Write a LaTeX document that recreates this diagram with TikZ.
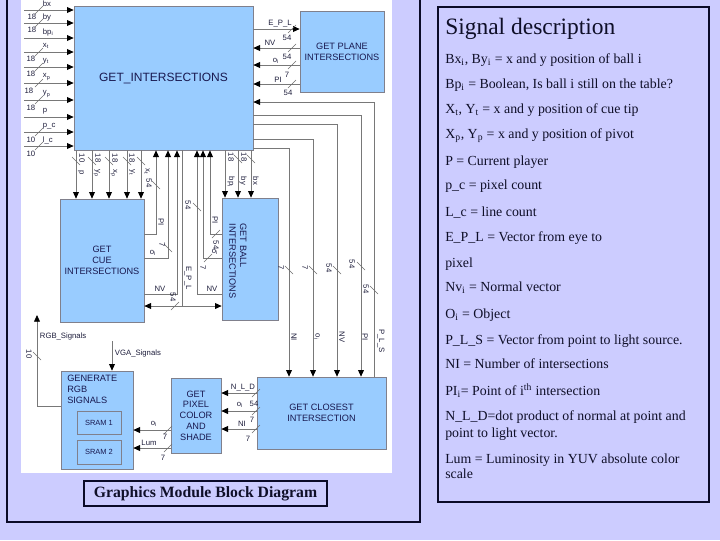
\documentclass[tikz,border=0pt]{standalone}
\usepackage{fontspec}
\setmainfont{Liberation Serif}
\setsansfont{Liberation Sans}
\usetikzlibrary{arrows.meta}

\begin{document}
\begin{tikzpicture}[x=0.75pt,y=0.75pt,yscale=-1,xscale=1,
  blk/.style={draw={rgb, 255:red, 128; green, 128; blue, 140 }, fill={rgb, 255:red, 153; green, 204; blue, 255 }, line width=0.5pt, inner sep=0pt, text={rgb, 255:red, 25; green, 25; blue, 80 }, font=\sffamily\fontsize{6.9}{8.1}\selectfont, align=center},
  boxtxt/.style={inner sep=0pt, text={rgb, 255:red, 25; green, 25; blue, 80 }, font=\sffamily\fontsize{6.9}{8.1}\selectfont},
  lbl/.style={inner sep=0.5pt, text={rgb, 255:red, 30; green, 30; blue, 60 }, font=\sffamily\fontsize{5.8}{6.5}\selectfont},
  rlbl/.style={lbl, rotate=-90},
  wire/.style={draw={rgb, 255:red, 120; green, 120; blue, 120 }, line width=0.6pt},
  sig/.style={wire, -{Triangle[length=5pt,width=4.4pt,color=black]}},
  dsig/.style={wire, {Triangle[length=5pt,width=4.4pt,color=black]}-{Triangle[length=5pt,width=4.4pt,color=black]}},
  tk/.style={draw={rgb, 255:red, 110; green, 110; blue, 110 }, line width=0.4pt},
  desc/.style={anchor=base west, inner sep=0pt, text={rgb, 255:red, 15; green, 15; blue, 40 }, font=\fontsize{10.4}{12}\selectfont}
  ]
\useasboundingbox (0,0) rectangle (720,540);

%Shape: Rectangle (page)
\fill [fill={rgb, 255:red, 204; green, 204; blue, 255 }] (0,0) rectangle (720,540);
%Shape: Rectangle (left frame)
\draw [draw={rgb, 255:red, 10; green, 10; blue, 40 }, line width=1pt] (7,-5) rectangle (420,522);
\fill [white] (21,0) rectangle (392,473);
%Shape: Rectangle (right frame)
\draw [draw={rgb, 255:red, 10; green, 10; blue, 40 }, line width=1pt] (438,7) rectangle (709,502);

% Blocks
\node [blk, minimum width=134.25pt, minimum height=108pt, font=\sffamily\fontsize{9}{10}\selectfont] (gi) at (163.5,78) {GET\_INTERSECTIONS};
\node [blk, minimum width=63pt, minimum height=60.75pt] (gpi) at (342,51.5) {GET PLANE\\INTERSECTIONS};
\node [blk, minimum width=63pt, minimum height=92.25pt] (gcue) at (102,260.5) {GET\\CUE\\INTERSECTIONS};
\node [blk, minimum width=42pt, minimum height=91.5pt] (gball) at (250,259) {};
\node [boxtxt, rotate=-90, align=left] (tball) at (238,261) {GET BALL\\INTERSECTIONS};
\node [blk, minimum width=96.75pt, minimum height=54pt] (gci) at (321.5,413) {GET CLOSEST\\INTERSECTION};
\node [blk, minimum width=37.5pt, minimum height=56.25pt] (gpix) at (196,415.5) {GET\\PIXEL\\COLOR\\AND\\SHADE};
\node [blk, minimum width=54pt, minimum height=73.5pt] (grgb) at (97,420) {};
\node [boxtxt, anchor=north west, align=left] (trgb) at (67,375) {GENERATE\\RGB\\SIGNALS};
\node [blk, minimum width=33pt, minimum height=17.25pt, font=\sffamily\fontsize{5.6}{6.5}\selectfont] (sram1) at (99,422.5) {SRAM 1};
\node [blk, minimum width=33pt, minimum height=18pt, font=\sffamily\fontsize{5.6}{6.5}\selectfont] (sram2) at (99,452) {SRAM 2};

% Inputs of GET_INTERSECTIONS
\coordinate (ibx) at (24,10);
\coordinate (iby) at (24,23);
\coordinate (ibp) at (24,38);
\coordinate (ixt) at (24,52);
\coordinate (iyt) at (24,67);
\coordinate (ixp) at (24,83);
\coordinate (iyp) at (24,100);
\coordinate (ip) at (24,117);
\coordinate (ipc) at (24,132);
\coordinate (ilc) at (24,146);
\draw [sig] (ibx) -- (ibx -| gi.west);
\draw [sig] (iby) -- (iby -| gi.west);
\draw [sig] (ibp) -- (ibp -| gi.west);
\draw [sig] (ixt) -- (ixt -| gi.west);
\draw [sig] (iyt) -- (iyt -| gi.west);
\draw [sig] (ixp) -- (ixp -| gi.west);
\draw [sig] (iyp) -- (iyp -| gi.west);
\draw [sig] (ip) -- (ip -| gi.west);
\draw [sig] (ipc) -- (ipc -| gi.west);
\draw [sig] (ilc) -- (ilc -| gi.west);
%Straight Lines (bus ticks)
\draw [tk] (35,14) -- (43,6);
\draw [tk] (35,27) -- (43,19);
\draw [tk] (35,56) -- (43,48);
\draw [tk] (35,71) -- (43,63);
\draw [tk] (35,87) -- (43,79);
\draw [tk] (35,104) -- (43,96);
\draw [tk] (35,136) -- (43,128);
\draw [tk] (35,150) -- (43,142);
% Text Node
\node [lbl, anchor=west] (nbx) at (42,4) {bx};
\node [lbl, anchor=west] (nby) at (42,17) {by};
\node [lbl, anchor=west] (nbp) at (42,32) {bp\textsubscript{i}};
\node [lbl, anchor=west] (nxt) at (42,46) {x\textsubscript{t}};
\node [lbl, anchor=west] (nyt) at (42,61) {y\textsubscript{t}};
\node [lbl, anchor=west] (nxp) at (42,77) {x\textsubscript{p}};
\node [lbl, anchor=west] (nyp) at (42,94) {y\textsubscript{p}};
\node [lbl, anchor=west] (np) at (42,111) {p};
\node [lbl, anchor=west] (npc) at (42,126) {p\_c};
\node [lbl, anchor=west] (nlc) at (42,140) {l\_c};
\node [lbl] (wbx) at (32,17) {18};
\node [lbl] (wby) at (32,30) {18};
\node [lbl] (wxt) at (31,59) {18};
\node [lbl] (wyt) at (31,74) {18};
\node [lbl] (wxp) at (29,91) {18};
\node [lbl] (wyp) at (31,108) {18};
\node [lbl] (wpc) at (31,140) {10};
\node [lbl] (wlc) at (31,154) {10};

% Connection: GET_INTERSECTIONS <-> GET PLANE INTERSECTIONS
\draw [sig] (gi.east |- 0,29) -- (gpi.west |- 0,29);
\draw [sig] (gpi.west |- 0,48) -- (gi.east |- 0,48);
\draw [sig] (gpi.west |- 0,65) -- (gi.east |- 0,65);
\draw [sig] (gpi.west |- 0,84) -- (gi.east |- 0,84);
\draw [tk] (288,33) -- (296,25);
\draw [tk] (288,52) -- (296,44);
\draw [tk] (288,69) -- (296,61);
\draw [tk] (288,88) -- (296,80);
\node [lbl] (nepl) at (280,24) {E\_P\_L};
\node [lbl] (nnv) at (270,43) {NV};
\node [lbl] (noi) at (276,61) {o\textsubscript{i}};
\node [lbl] (npi) at (278,80) {PI};
\node [lbl] (wepl) at (287,38) {54};
\node [lbl] (wnv) at (287,57) {54};
\node [lbl] (woi) at (287,75) {7};
\node [lbl] (wpi) at (288,93) {54};

% Connection: GET_INTERSECTIONS -> GET CUE INTERSECTIONS
\draw [sig] (gi.south -| 76,0) -- (gcue.north -| 76,0);
\draw [sig] (gi.south -| 92,0) -- (gcue.north -| 92,0);
\draw [sig] (gi.south -| 109,0) -- (gcue.north -| 109,0);
\draw [sig] (gi.south -| 127,0) -- (gcue.north -| 127,0);
\draw [sig] (gi.south -| 141,0) -- (gcue.north -| 141,0);
\draw [tk] (72,157) -- (80,165);
\draw [tk] (88,157) -- (96,165);
\draw [tk] (105,157) -- (113,165);
\draw [tk] (123,157) -- (131,165);
\draw [tk] (137,157) -- (145,165);
\node [rlbl] (wcp) at (82,158) {10};
\node [rlbl] (wcyp) at (98,158) {18};
\node [rlbl] (wcxp) at (115,158) {18};
\node [rlbl] (wcyt) at (132,158) {18};
\node [rlbl] (ncp) at (81,173) {p};
\node [rlbl] (ncyp) at (97,173) {y\textsubscript{p}};
\node [rlbl] (ncxp) at (114,173) {x\textsubscript{p}};
\node [rlbl] (ncyt) at (132,173) {y\textsubscript{t}};
\node [rlbl] (ncxt) at (147,172) {x\textsubscript{t}};

% Connection: GET_INTERSECTIONS -> GET BALL INTERSECTIONS
\draw [sig] (gi.south -| 225,0) -- (gball.north -| 225,0);
\draw [sig] (gi.south -| 238,0) -- (gball.north -| 238,0);
\draw [sig] (gi.south -| 251,0) -- (gball.north -| 251,0);
\draw [tk] (234,155) -- (242,163);
\draw [tk] (247,155) -- (255,163);
\node [rlbl] (wby2) at (231,157) {18};
\node [rlbl] (wbx2) at (244,157) {18};
\node [rlbl] (nbp2) at (231,182) {bp\textsubscript{i}};
\node [rlbl] (nby2) at (243,181) {by};
\node [rlbl] (nbx2) at (256,181) {bx};

% Connection: GET CUE INTERSECTIONS -> GET_INTERSECTIONS
\draw [sig] (gcue.east |- 0,234) -| (gi.south -| 156,0);
\draw [sig] (gcue.east |- 0,258) -| (gi.south -| 168,0);
\draw [sig] (gcue.east |- 0,294) -| (gi.south -| 177,0);
\draw [tk] (152,181) -- (160,189);
\draw [tk] (164,244) -- (172,252);
\node [rlbl] (wcpi) at (149,183) {54};
\node [rlbl] (ncpi) at (161,222) {PI};
\node [rlbl] (wco) at (162,245) {7};
\node [lbl] (nco) at (153,253) {o\textsubscript{i}};
\node [lbl] (ncnv) at (160,289) {NV};

% Connection: GET BALL INTERSECTIONS -> GET_INTERSECTIONS
\draw [sig] (gball.west |- 0,234) -| (gi.south -| 210,0);
\draw [sig] (gball.west |- 0,258) -| (gi.south -| 203,0);
\draw [sig] (gball.west |- 0,294) -| (gi.south -| 197,0);
\draw [tk] (193,203) -- (201,211);
\draw [tk] (212,238) -- (220,230);
\draw [tk] (204,262) -- (212,254);
\node [rlbl] (wbnv) at (188,205) {54};
\node [rlbl] (nbpi) at (215,220) {PI};
\node [rlbl] (wbpi) at (216,245) {54};
\node [lbl] (nbo) at (215,252) {o\textsubscript{i}};
\node [rlbl] (wbo) at (203,268) {7};
\node [lbl] (nbnv) at (212,289) {NV};

% Connection: E_P_L to both cue and ball blocks
\coordinate (eplj) at (182,306);
\draw [wire] (gi.south -| eplj) -- (eplj);
\draw [dsig] (gcue.east |- eplj) -- (gball.west |- eplj);
\draw [tk] (171,310) -- (179,302);
\node [rlbl] (nepl2) at (188,278) {E\_P\_L};
\node [rlbl] (wepl2) at (173,297) {54};

% Connection: GET_INTERSECTIONS <-> GET CLOSEST INTERSECTION
\draw [sig] (gi.east |- 0,148) -| (gci.north -| 289,0);
\draw [sig] (gi.east |- 0,139) -| (gci.north -| 313,0);
\draw [sig] (gi.east |- 0,124) -| (gci.north -| 337,0);
\draw [sig] (gi.east |- 0,115) -| (gci.north -| 361,0);
\draw [sig] (gci.north -| 374,0) |- (gi.east |- 0,102);
\draw [tk] (285,266) -- (293,274);
\draw [tk] (309,266) -- (317,274);
\draw [tk] (333,266) -- (341,274);
\draw [tk] (357,262) -- (365,270);
\draw [tk] (370,286) -- (378,294);
\node [rlbl] (wni) at (281,268) {7};
\node [rlbl] (wgo) at (305,268) {7};
\node [rlbl] (wgnv) at (329,268) {54};
\node [rlbl] (wgpi) at (352,264) {54};
\node [rlbl] (wpls) at (366,289) {54};
\node [rlbl] (nni) at (294,337) {NI};
\node [rlbl] (ngo) at (317,337) {o\textsubscript{i}};
\node [rlbl] (ngnv) at (342,337) {NV};
\node [rlbl] (ngpi) at (365,337) {PI};
\node [rlbl] (npls) at (381,341) {P\_L\_S};

% Connection: GET CLOSEST INTERSECTION -> GET PIXEL COLOR AND SHADE
\draw [sig] (gci.west |- 0,393) -- (gpix.east |- 0,393);
\draw [sig] (gci.west |- 0,411) -- (gpix.east |- 0,411);
\draw [sig] (gci.west |- 0,429) -- (gpix.east |- 0,429);
\draw [tk] (252,397) -- (260,389);
\draw [tk] (252,415) -- (260,407);
\draw [tk] (252,433) -- (260,425);
\node [lbl] (nnld) at (243,388) {N\_L\_D};
\node [lbl] (nxo) at (240,405) {o\textsubscript{i}};
\node [lbl] (nxni) at (242,424) {NI};
\node [lbl] (wnld) at (254,404) {54};
\node [lbl] (wxo) at (252,420) {7};
\node [lbl] (wxni) at (248,439) {7};

% Connection: GET PIXEL COLOR AND SHADE -> GENERATE RGB SIGNALS
\draw [sig] (gpix.west |- 0,430) -- (grgb.east |- 0,430);
\draw [sig] (gpix.west |- 0,448) -- (grgb.east |- 0,448);
\draw [tk] (164,434) -- (172,426);
\draw [tk] (164,452) -- (172,444);
\node [lbl] (nro) at (154,424) {o\textsubscript{i}};
\node [lbl] (wro) at (165,437) {7};
\node [lbl] (nlum) at (149,443) {Lum};
\node [lbl] (wlum) at (163,458) {7};

% Connection: RGB and VGA signals
\coordinate (rgbend) at (37,315);
\draw [sig] (grgb.west |- 0,406) -| (rgbend);
\draw [tk] (33,352) -- (41,360);
\node [rlbl] (wrgb) at (29,354) {10};
\node [lbl, anchor=west] (nrgb) at (39,336) {RGB\_Signals};
\coordinate (vgastart) at (112,341);
\draw [sig] (vgastart) -- (vgastart |- grgb.north);
\node [lbl, anchor=west] (nvga) at (114,353) {VGA\_Signals};

% Text Node (caption)
\node [draw={rgb, 255:red, 10; green, 10; blue, 40 }, line width=0.8pt, inner sep=0pt, minimum width=182.25pt, minimum height=18.75pt, text={rgb, 255:red, 15; green, 15; blue, 40 }, font=\bfseries\fontsize{11.8}{13}\selectfont] (cap) at (205.5,493.5) {Graphics Module Block Diagram};

% Text Node (signal description)
\node [desc, font=\fontsize{17.6}{19}\selectfont] (dtitle) at (445,34) {Signal description};
\node [desc] (d1) at (445,63) {Bx\textsubscript{i}, By\textsubscript{i} = x and y position of ball i};
\node [desc] (d2) at (445,88) {Bp\textsubscript{i} = Boolean, Is ball i still on the table?};
\node [desc] (d3) at (445,113) {X\textsubscript{t}, Y\textsubscript{t} = x and y position of cue tip};
\node [desc] (d4) at (445,138) {X\textsubscript{p}, Y\textsubscript{p} = x and y position of pivot};
\node [desc] (d5) at (445,165) {P = Current player};
\node [desc] (d6) at (445,189) {p\_c = pixel count};
\node [desc] (d7) at (445,216) {L\_c = line count};
\node [desc] (d8) at (445,241) {E\_P\_L = Vector from eye to};
\node [desc] (d9) at (445,267) {pixel};
\node [desc] (d10) at (445,291) {Nv\textsubscript{i} = Normal vector};
\node [desc] (d11) at (445,318) {O\textsubscript{i} = Object};
\node [desc] (d12) at (445,344) {P\_L\_S = Vector from point to light source.};
\node [desc] (d13) at (445,368) {NI = Number of intersections};
\node [desc] (d14) at (445,395) {PI\textsubscript{i}= Point of i\textsuperscript{th} intersection};
\node [desc] (d15) at (445,420) {N\_L\_D=dot product of normal at point and};
\node [desc] (d16) at (445,437) {point to light vector.};
\node [desc] (d17) at (445,463) {Lum = Luminosity in YUV absolute color};
\node [desc] (d18) at (445,478) {scale};

\end{tikzpicture}
\end{document}
